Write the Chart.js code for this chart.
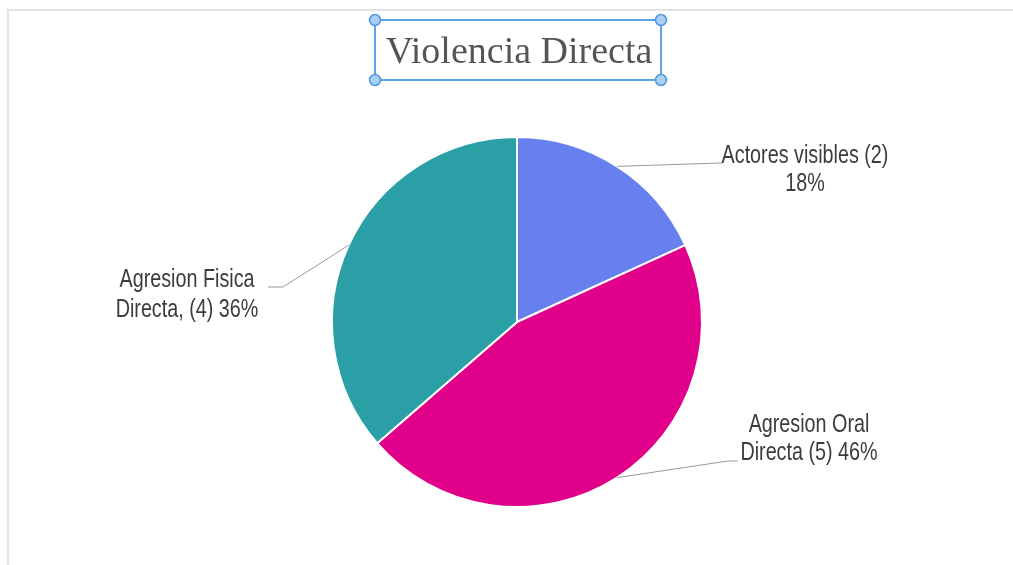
<!DOCTYPE html>
<html>
<head>
<meta charset="utf-8">
<script src="https://cdn.jsdelivr.net/npm/chart.js@4"></script>
<style>
  html, body { margin: 0; padding: 0; background: #fff; }
  #wrap { width: 1013px; height: 565px; position: relative; }
</style>
</head>
<body>
<div id="wrap"><canvas id="pieChart" width="1013" height="565"></canvas></div>
<script>
const titulo = "Violencia Directa";
const categorias = ["Actores visibles", "Agresion Oral Directa", "Agresion Fisica Directa"];
const valores = [2, 5, 4];
const etiquetas = [
  ["Actores visibles (2)", "18%"],
  ["Agresion Oral", "Directa (5) 46%"],
  ["Agresion Fisica", "Directa, (4) 36%"]
];
const colores = ["#687ff0", "#e0008a", "#2a9fa5"];

// leader line elbow / end and text anchor (first baseline), relative to the pie centre
const layoutEtiquetas = [
  { elbow: [203, -159], end: [205, -159], text: [288, -159], gap: 27.5 },
  { elbow: [211, 139], end: [221, 139], text: [292, 110], gap: 28 },
  { elbow: [-234, -35], end: [-249, -35], text: [-330, -35], gap: 29.5 }
];

const marco = {
  id: "marco",
  beforeDraw(chart) {
    const c = chart.ctx;
    c.save();
    c.strokeStyle = "#e2e2e2";
    c.lineWidth = 2;
    c.beginPath();
    c.moveTo(8, 600);
    c.lineTo(8, 10);
    c.lineTo(1020, 10);
    c.stroke();
    c.restore();
  },
  afterDraw(chart) {
    const c = chart.ctx;
    c.save();
    // titulo con caja de seleccion
    c.font = "38px 'Liberation Serif'";
    c.fillStyle = "#555";
    c.textAlign = "center";
    c.textBaseline = "alphabetic";
    c.fillText(titulo, 519, 63);
    c.strokeStyle = "#5ea3e6";
    c.lineWidth = 2;
    c.strokeRect(375, 20, 286, 60);
    [[375, 20], [661, 20], [375, 80], [661, 80]].forEach(p => {
      c.beginPath();
      c.arc(p[0], p[1], 5.5, 0, Math.PI * 2);
      c.fillStyle = "#a9cff5";
      c.fill();
      c.lineWidth = 1.5;
      c.strokeStyle = "#4f98e0";
      c.stroke();
    });

    // etiquetas con lineas guia
    const meta = chart.getDatasetMeta(0);
    const sx0 = 0.79;
    meta.data.forEach((arc, i) => {
      const p = arc.getProps(["x", "y", "startAngle", "endAngle", "outerRadius"], true);
      const mid = (p.startAngle + p.endAngle) / 2;
      const sx = p.x + Math.cos(mid) * p.outerRadius;
      const sy = p.y + Math.sin(mid) * p.outerRadius;
      const L = layoutEtiquetas[i];
      c.strokeStyle = "#9a9a9a";
      c.lineWidth = 1;
      c.beginPath();
      c.moveTo(sx, sy);
      c.lineTo(p.x + L.elbow[0], p.y + L.elbow[1]);
      c.lineTo(p.x + L.end[0], p.y + L.end[1]);
      c.stroke();
      c.fillStyle = "#3c3c3c";
      c.font = "25px 'Liberation Sans'";
      c.textAlign = "center";
      c.textBaseline = "alphabetic";
      etiquetas[i].forEach((t, k) => {
        c.save();
        c.translate(p.x + L.text[0], p.y + L.text[1] + k * L.gap);
        c.scale(sx0, 1);
        c.fillText(t, 0, 0);
        c.restore();
      });
    });
    c.restore();
  }
};

const ctx = document.getElementById("pieChart").getContext("2d");
const myChart = new Chart(ctx, {
  type: "pie",
  data: {
    labels: categorias,
    datasets: [{
      data: valores,
      backgroundColor: colores,
      borderColor: "#ffffff",
      borderWidth: 2
    }]
  },
  options: {
    responsive: false,
    animation: false,
    layout: { padding: { top: 136, bottom: 57, left: 331, right: 310 } },
    plugins: {
      legend: { display: false },
      tooltip: { enabled: false },
      title: { display: false }
    }
  },
  plugins: [marco]
});
</script>
</body>
</html>
